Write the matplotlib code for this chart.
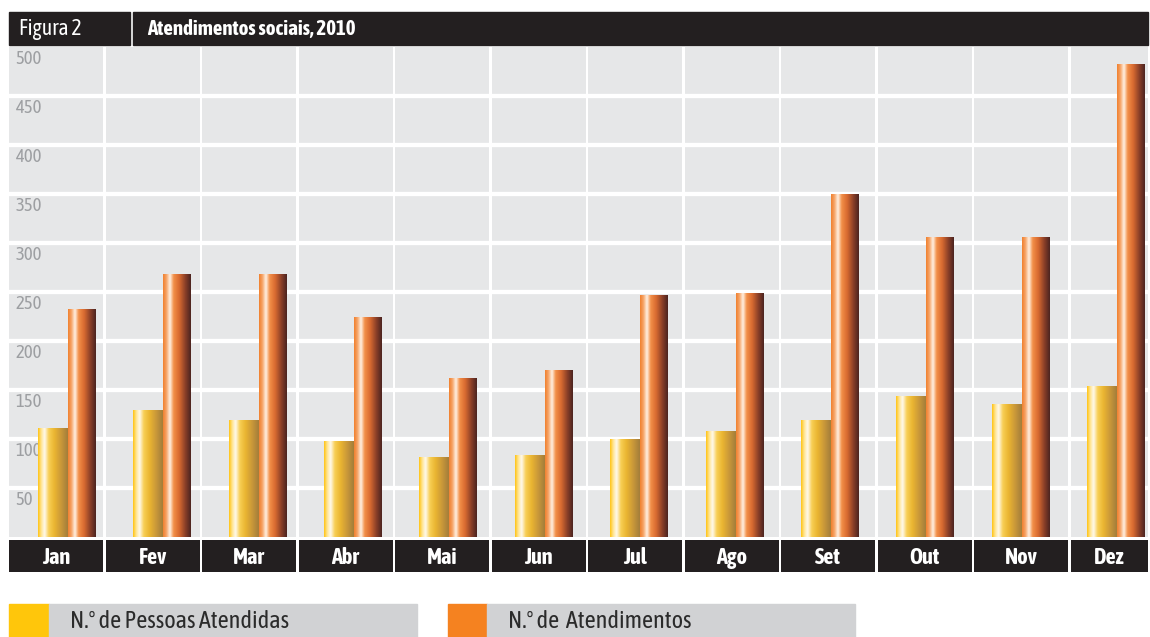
import matplotlib
matplotlib.use("Agg")
import matplotlib.pyplot as plt
import matplotlib.patches as mpatches
from matplotlib import font_manager
from matplotlib.colors import LinearSegmentedColormap
import numpy as np

months = ["Jan", "Fev", "Mar", "Abr", "Mai", "Jun", "Jul", "Ago", "Set", "Out", "Nov", "Dez"]
pessoas = [111, 130, 119, 98, 82, 84, 100, 108, 119, 144, 136, 154]
atendimentos = [233, 268, 268, 224, 162, 170, 247, 249, 350, 306, 306, 483]
y_ticks = [50, 100, 150, 200, 250, 300, 350, 400, 450, 500]

title = "Atendimentos sociais, 2010"
fig_label = "Figura 2"
legend_labels = ["N.º de Pessoas Atendidas", "N.º de  Atendimentos"]

W, H = 1150, 637
BLACK = "#231f20"
PANEL = "#e6e7e8"
LEG_GRAY = "#d1d2d4"
TICK_GRAY = "#9d9fa2"

# look for a narrow face that also has a bold cut (original uses a condensed type)
weights = {}
for f in font_manager.fontManager.ttflist:
    if "Narrow" in f.name or "Condensed" in f.name:
        w = f.weight if isinstance(f.weight, int) else font_manager.weight_dict.get(f.weight, 400)
        weights.setdefault(f.name, set()).add(w)
with_bold = sorted(n for n, ws in weights.items() if max(ws) >= 600 and min(ws) <= 500)
if with_bold:
    plt.rcParams['font.family'] = [with_bold[0], 'DejaVu Sans']
elif weights:
    plt.rcParams['font.family'] = [sorted(weights)[0], 'DejaVu Sans']

yellow_cmap = LinearSegmentedColormap.from_list("yel", [
    (0.0, "#ffc20e"), (0.10, "#ffe38a"), (0.22, "#fffaf0"),
    (0.36, "#f8cf55"), (0.55, "#eab531"), (0.78, "#c8973a"), (1.0, "#a27d3a")])
orange_cmap = LinearSegmentedColormap.from_list("org", [
    (0.0, "#f07f2c"), (0.12, "#f6a366"), (0.25, "#fff3e6"),
    (0.38, "#f39048"), (0.58, "#d86a30"), (0.80, "#8a3f28"), (1.0, "#4a2420")])


def px_rect(x0, y0, x1, y1):
    # pixel box (top-left origin) -> figure fraction
    return [x0 / W, 1 - y1 / H, (x1 - x0) / W, (y1 - y0) / H]


def gradient_bars(ax, bars, cmap):
    grad = np.linspace(0, 1, 256).reshape(1, -1)
    for b in bars:
        x0, y0 = b.get_x(), b.get_y()
        im = ax.imshow(grad, cmap=cmap, aspect='auto', zorder=3,
                       extent=[x0, x0 + b.get_width(), y0, y0 + b.get_height()],
                       interpolation='bicubic')
        im.set_clip_path(b)
        b.set_alpha(0)


fig = plt.figure(figsize=(W / 100, H / 100), dpi=100)

col_pitch = 96.5          # px per month column
bar_pitch = 95.36 / col_pitch
x_right = (1148 - 9) / col_pitch
col_w = 94 / col_pitch

# main panel
ax = fig.add_axes(px_rect(9, 47, 1148, 537))
ax.set_facecolor("white")
idx = np.arange(len(months))
widths = [col_w] * (len(months) - 1) + [x_right - (len(months) - 1)]
ax.bar(idx, 500, width=widths, align='edge', color=PANEL, zorder=0)
for v in y_ticks[:-1]:
    ax.axhline(v, color="white", lw=3.1, zorder=1)
for v in y_ticks:
    ax.text(0.07, v - 3, str(v), ha='left', va='top', fontsize=13.5,
            color=TICK_GRAY, zorder=2)

x_yel = 29 / col_pitch + idx * bar_pitch
w_yel = 30 / col_pitch
w_org = 27.5 / col_pitch
b1 = ax.bar(x_yel, pessoas, width=w_yel, align='edge', zorder=3)
b2 = ax.bar(x_yel + w_yel, atendimentos, width=w_org, align='edge', zorder=3)
gradient_bars(ax, b1, yellow_cmap)
gradient_bars(ax, b2, orange_cmap)
ax.set_xlim(0, x_right)
ax.set_ylim(0, 500)
ax.axis('off')

# month band
axm = fig.add_axes(px_rect(9, 540, 1148, 572))
axm.set_xlim(0, x_right)
axm.set_ylim(0, 1)
axm.bar(idx, 1, width=widths, align='edge', color=BLACK)
for i, m in enumerate(months):
    axm.text(i + widths[i] / 2, 0.45, m, ha='center', va='center',
             color='white', fontsize=16, fontweight='bold')
axm.axis('off')

# header
fig.patches.append(mpatches.Rectangle((9 / W, 1 - 45 / H), 121 / W, 33 / H,
                                      transform=fig.transFigure, color=BLACK))
fig.patches.append(mpatches.Rectangle((133 / W, 1 - 45 / H), 1015 / W, 33 / H,
                                      transform=fig.transFigure, color=BLACK))
fig.text(19 / W, 1 - 29 / H, fig_label, color='white', fontsize=15.5, va='center')
fig.text(147 / W, 1 - 29 / H, title, color='white', fontsize=15,
         fontweight='bold', va='center')

# legend
leg = [(9, 49, 417, "#ffc60b", legend_labels[0], 70),
       (448, 487, 855, "#f58220", legend_labels[1], 508)]
for x0, x1, x2, c, lab, tx in leg:
    fig.patches.append(mpatches.Rectangle((x0 / W, 0), (x1 - x0) / W, 33 / H,
                                          transform=fig.transFigure, color=c))
    fig.patches.append(mpatches.Rectangle((x1 / W, 0), (x2 - x1) / W, 33 / H,
                                          transform=fig.transFigure, color=LEG_GRAY))
    fig.text(tx / W, 15 / H, lab, color="#2b2b2b", fontsize=17.5, va='center')

fig.savefig("out.png", dpi=100)
